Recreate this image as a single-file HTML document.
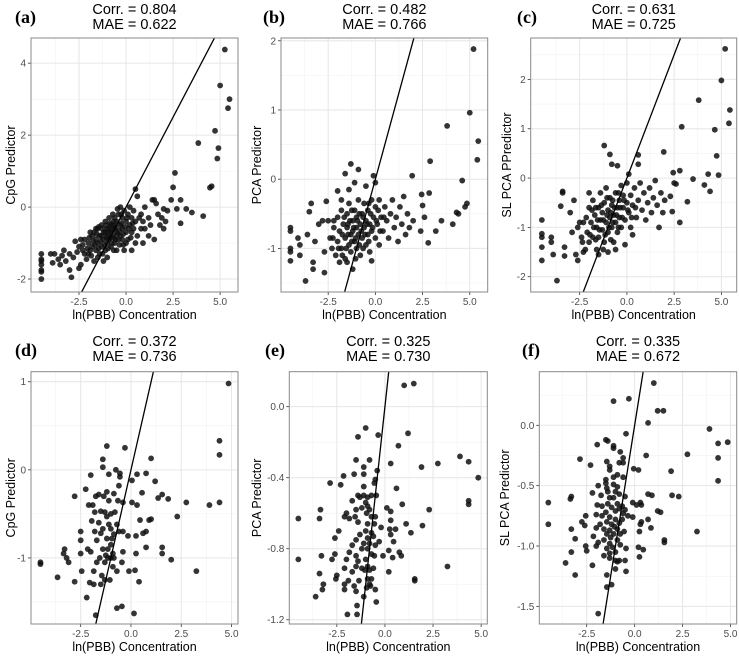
<!DOCTYPE html>
<html><head><meta charset="utf-8">
<style>
html,body{margin:0;padding:0;background:#fff;width:739px;height:656px;overflow:hidden;}
svg{display:block;font-family:"Liberation Sans",sans-serif;}
</style></head>
<body>
<svg id="fig" width="739" height="656" viewBox="0 0 739 656" xmlns="http://www.w3.org/2000/svg"></svg>
<script>
// ---- data ----
const xTickVals = [-2.5, 0, 2.5, 5];
const xTickLabels = ["-2.5", "0.0", "2.5", "5.0"];
const corrLabels = ["0.804", "0.482", "0.631", "0.372", "0.325", "0.335"];
const maeLabels = ["0.622", "0.766", "0.725", "0.736", "0.730", "0.672"];
const yTicksA = [-2, 0, 2, 4];
const yTicksB = [-1, 0, 1, 2];
const yTicksC = [-2, -1, 0, 1, 2];
const yTicksD = [-1, 0, 1];
const yTicksE = [-1.2, -0.8, -0.4, 0.0];
const yTicksF = [-1.5, -1.0, -0.5, 0.0];
const yLabA = ["-2","0","2","4"];
const yLabB = ["-1","0","1","2"];
const yLabC = ["-2","-1","0","1","2"];
const yLabD = ["-1","0","1"];
const yLabE = ["-1.2","-0.8","-0.4","0.0"];
const yLabF = ["-1.5","-1.0","-0.5","0.0"];

const pointsA = [[-4.5,-1.3],[-4.5,-1.45],[-4.5,-1.6],[-4.5,-1.75],[-4.5,-1.8],[-4.5,-2.0],[-4.5,-1.5],
[-3.8,-1.3],[-3.6,-1.45],[-3.5,-1.6],[-3.3,-1.2],[-3.2,-1.5],[-3.0,-1.3],[-3.0,-1.75],[-2.9,-1.95],[-2.8,-1.4],[-2.7,-0.95],[-2.6,-1.25],[-2.5,-1.1],[-2.4,-1.6],[-2.3,-1.2],[-2.2,-0.9],[-2.1,-1.45],[-2.0,-1.0],[-1.9,-0.7],[-3.4,-1.35],[-3.9,-1.55],[-4.0,-1.3],[-2.5,-1.7],
[-2,-1.3],[-1.8,-1.1],[-1.8,-0.8],[-1.7,-1.5],[-1.6,-1.2],[-1.6,-0.9],[-1.5,-1.0],[-1.5,-0.6],[-1.4,-1.3],[-1.4,-0.8],[-1.3,-1.1],[-1.3,-0.5],[-1.2,-0.9],[-1.2,-0.7],[-1.1,-1.2],[-1.1,-0.4],[-1.0,-0.8],[-1.0,-1.0],[-1.0,-0.6],[-0.9,-0.9],[-0.9,-0.3],[-0.8,-0.7],[-0.8,-1.1],[-0.8,-0.5],[-0.7,-0.8],[-0.7,-0.2],[-0.6,-0.6],[-0.6,-1.0],[-0.5,-0.4],[-0.5,-0.7],[-0.4,-0.9],[-0.4,-0.2],[-0.3,-0.5],[-0.3,-0.8],[-0.2,-0.3],[-0.2,-0.6],[-0.1,-1.2],[-0.1,-0.1],[0.0,-0.4],[0.0,-0.7],[0.1,-0.2],[0.1,-0.9],[0.2,0.0],[0.2,-0.5],[0.3,-0.3],[0.3,-0.7],[0.4,-0.1],[0.4,-0.6],[0.5,-0.4],[0.6,-0.8],[0.7,-0.3],[0.8,-0.6],[-1.9,-1.2],[-2.2,-1.3],[-1.5,-1.4],[-0.6,-0.3],[-1.1,-0.7],[-0.9,-0.6],[-0.5,-1.2],[-1.3,-0.8],[-0.7,-0.5],[-1.6,-0.6],[-0.2,-0.9],[0.0,-1.0],[-2.4,-0.9],[-1.0,-1.4],[0.5,-1.0],[0.9,-0.4],[-0.3,0.0],[-1.2,-1.5],
[-1.75,-0.95],[-1.65,-1.05],[-1.55,-0.75],[-1.45,-1.15],[-1.35,-0.95],[-1.25,-0.6],[-1.15,-1.05],[-1.05,-0.85],[-0.95,-1.15],[-0.95,-0.7],[-0.85,-0.85],[-0.75,-1.0],[-0.75,-0.65],[-0.65,-0.85],[-0.65,-0.4],[-0.55,-0.9],[-0.55,-0.55],[-0.45,-0.75],[-0.35,-0.65],[-0.35,-1.05],[-0.25,-0.45],[-0.15,-0.75],[-0.05,-0.55],[0.05,-0.3],[0.15,-0.6],[0.25,-0.85],[-1.85,-1.35],[-2.05,-1.15],[-1.95,-0.85],[-2.3,-1.05],[-1.45,-0.55],[-1.25,-1.3],[-0.85,-0.45],[-0.45,-0.05],[0.35,-0.45],[-0.15,-1.05],[-1.7,-0.7],[-1.05,-0.5],[-0.25,-0.2],[-0.65,-1.2],
[0.5,0.5],[0.6,0.3],[0.8,-0.2],[1.0,0.0],[1.2,-0.3],[1.4,0.2],[1.5,0.2],[1.6,0.1],[1.7,-0.2],[1.8,-0.5],[1.9,-0.3],[2.0,-0.6],[2.1,-0.4],[2.2,-0.1],[2.4,0.2],[2.5,0.55],[2.6,0.95],[2.7,-0.05],[2.9,-0.45],[2.9,0.2],[3.2,-0.05],[3.5,-0.15],[4.1,-0.25],[1.5,-0.9],[1.0,-0.6],[0.9,-1.0],[0.3,-1.2],[1.2,-0.8],[2.0,-0.05],[1.3,-0.5],
[3.84,1.78],[4.73,2.12],[4.91,1.64],[4.85,1.35],[4.46,0.54],[4.55,0.58],[5.25,4.38],[5.0,3.38],[5.5,3.0],[5.42,2.75]];

const pointsB = [[5.2,1.88],[5.0,0.96],[3.8,0.77],[5.45,0.55],[5.4,0.28],[2.9,0.26],[4.6,-0.02],[1.95,0.05],[4.85,-0.35],[4.75,-0.4],[4.3,-0.48],[4.4,-0.5],[4.1,-0.65],[3.5,-0.6],[3.2,-0.75],[2.8,-0.92],[2.6,-0.55],[2.4,-0.75],[2.5,-0.38],[2.45,-0.22],[2.85,-0.2],
[-4.5,-0.7],[-4.5,-0.75],[-4.5,-1.0],[-4.5,-1.05],[-4.5,-1.18],[-4.1,-0.85],[-4.0,-0.95],[-4.0,-1.1],[-3.7,-1.47],[-3.6,-0.8],[-3.5,-0.47],[-3.4,-0.35],[-3.3,-1.2],[-3.3,-1.3],[-3.2,-0.9],[-3.0,-0.65],[-2.8,-0.6],[-2.7,-1.05],[-2.6,-0.32],[-2.7,-1.35],[-2.2,-0.6],[-2.0,-0.17],
[-1.3,0.22],[-1.6,0.08],[-0.9,0.14],[-0.1,0.05],[-1.1,-0.05],[-0.5,-0.1],[0.0,-0.05],[-1.4,-0.15],
[-2.4,-0.85],[-2.3,-1.0],[-2.2,-0.7],[-2.1,-1.1],[-2.0,-0.55],[-2.0,-0.9],[-1.9,-1.2],[-1.9,-0.75],[-1.8,-0.45],[-1.8,-1.0],[-1.7,-0.65],[-1.6,-0.85],[-1.6,-1.15],[-1.5,-0.5],[-1.5,-0.7],[-1.4,-0.95],[-1.4,-0.35],[-1.3,-0.8],[-1.3,-1.05],[-1.2,-0.6],[-1.2,-0.75],[-1.1,-0.9],[-1.1,-0.45],[-1.0,-0.7],[-1.0,-1.0],[-1.0,-0.55],[-0.9,-0.8],[-0.9,-0.3],[-0.8,-0.65],[-0.8,-1.1],[-0.7,-0.5],[-0.7,-0.85],[-0.6,-0.7],[-0.6,-0.35],[-0.5,-0.95],[-0.5,-0.6],[-0.4,-0.45],[-0.4,-0.8],[-0.3,-0.65],[-0.3,-1.05],[-0.2,-0.3],[-0.2,-0.75],[-0.1,-0.55],[0.0,-0.85],[0.0,-0.4],[0.1,-0.65],[0.2,-0.3],[0.2,-0.95],[0.3,-0.55],[0.4,-0.75],[0.5,-0.4],[0.6,-0.6],[0.7,-0.85],[0.8,-0.5],[0.9,-0.3],[1.0,-0.7],[1.1,-0.55],[1.2,-0.9],[1.3,-0.4],[1.4,-0.65],[1.5,-0.25],[1.6,-0.8],[1.7,-0.5],[1.8,-0.7],[2.0,-0.6],[-1.5,-1.2],[-0.2,-1.18],[-2.5,-0.6],[-1.2,-1.3],[-1.8,-0.3],
[-1.75,-0.8],[-1.65,-0.55],[-1.55,-1.0],[-1.45,-0.8],[-1.35,-0.6],[-1.25,-0.9],[-1.15,-0.7],[-1.05,-0.85],[-0.95,-0.6],[-0.85,-0.95],[-0.75,-0.75],[-0.65,-0.55],[-0.55,-0.8],[-0.45,-0.65],[-0.35,-0.9],[-0.25,-0.5],[-0.15,-0.7],[0.05,-0.6],[0.25,-0.75],[0.45,-0.55],[-2.25,-0.85],[-1.95,-1.0],[-1.05,-1.15],[-0.65,-1.0],[-1.25,-0.45],[-0.85,-0.5],[-1.45,-0.65],[-0.35,-0.35],[0.15,-0.45],[-1.75,-1.1]];

const pointsC = [[5.2,2.62],[5.0,1.98],[3.8,1.58],[5.45,1.38],[5.4,1.11],[2.9,1.04],[4.65,0.98],[4.75,0.45],[1.95,0.53],[4.85,0.06],[4.3,0.08],[4.4,-0.27],[4.1,-0.14],[3.5,-0.02],[3.2,-0.48],[2.8,-0.9],[2.8,0.15],[2.45,0.11],[2.5,-0.1],[2.6,-0.12],[2.4,-0.68],[2.3,-0.37],
[-4.5,-0.85],[-4.5,-1.13],[-4.5,-1.2],[-4.5,-1.4],[-4.5,-1.67],[-4.0,-1.2],[-4.0,-1.3],[-3.9,-1.55],[-3.7,-2.08],[-3.4,-0.3],[-3.4,-0.27],[-3.5,-0.57],[-3.3,-1.4],[-3.3,-1.58],[-3.0,-0.7],[-2.9,-1.1],[-2.8,-0.45],[-2.7,-1.55],[-2.6,-1.67],[-2.5,-0.9],[-2.3,-1.5],[-2.0,-0.3],[-1.2,0.66],[-0.9,0.48],[-0.8,0.28],[0.6,0.47],[0.6,0.28],[-0.5,0.25],[0.1,0.08],
[-2.4,-1.2],[-2.3,-0.9],[-2.2,-1.45],[-2.1,-1.1],[-2.0,-0.6],[-2.0,-1.3],[-1.9,-0.9],[-1.8,-1.2],[-1.8,-0.45],[-1.7,-0.75],[-1.6,-1.0],[-1.6,-1.45],[-1.5,-0.6],[-1.5,-1.2],[-1.4,-0.85],[-1.4,-0.3],[-1.3,-1.05],[-1.3,-0.7],[-1.2,-0.5],[-1.2,-1.3],[-1.1,-0.9],[-1.1,-0.2],[-1.0,-0.65],[-1.0,-1.1],[-0.9,-0.8],[-0.9,-0.4],[-0.8,-1.0],[-0.8,-0.55],[-0.7,-0.75],[-0.7,-1.3],[-0.6,-0.3],[-0.6,-0.9],[-0.5,-0.6],[-0.5,-1.1],[-0.4,-0.45],[-0.4,-0.8],[-0.3,-0.15],[-0.3,-1.0],[-0.2,-0.6],[-0.2,-0.35],[-0.1,-0.85],[0.0,-0.5],[0.0,-0.1],[0.1,-0.7],[0.2,-0.35],[0.2,-1.0],[0.3,-0.55],[0.4,-0.2],[0.5,-0.8],[0.6,-0.45],[0.7,-0.1],[0.8,-0.65],[0.9,-0.3],[1.0,-0.85],[1.1,-0.5],[1.2,-0.2],[1.3,-0.7],[1.4,-0.4],[1.5,-0.05],[1.6,-0.55],[1.7,-1.0],[1.8,-0.3],[1.9,-0.7],[2.0,-0.45],[-1.5,-1.55],[-0.1,-1.35],[0.3,-1.15],[-1.0,-1.5],[-2.6,-1.0],[-0.6,-1.45],
[-1.75,-1.0],[-1.65,-0.6],[-1.55,-0.85],[-1.45,-1.05],[-1.35,-0.55],[-1.25,-0.85],[-1.15,-1.15],[-1.05,-0.75],[-0.95,-1.0],[-0.85,-0.7],[-0.75,-0.9],[-0.65,-0.6],[-0.55,-0.75],[-0.45,-1.0],[-0.35,-0.6],[-0.25,-0.8],[-0.15,-0.45],[0.05,-0.65],[0.25,-0.8],[-2.15,-0.8],[-1.95,-1.15],[-1.25,-1.45],[-0.85,-1.25],[-0.45,-0.3],[-1.65,-1.25],[-2.35,-1.3],[-1.05,-0.4],[0.45,-0.6],[-0.75,-0.45],[-1.85,-0.65]];

const pointsD = [[4.85,0.98],[4.4,0.33],[4.4,0.17],[4.4,-0.37],[3.9,-0.4],[3.25,-1.15],[2.75,-0.37],[2.3,-0.53],[2.0,-1.02],[1.85,-0.33],[1.55,-0.28],[1.55,-0.88],[1.55,-0.95],[1.35,-0.32],[1.2,-0.13],[1.0,0.13],[1.0,-0.56],[0.9,-0.57],[0.75,-0.04],[0.75,-0.7],[0.75,-0.88],[0.6,-0.72],[0.55,-0.26],[0.45,-0.57],[0.4,-1.27],[0.3,-0.05],[0.3,-0.4],[0.25,-0.75],[0.25,-0.95],[0.2,-1.14],[0.15,-1.63],[0.05,-0.37],[0.05,-0.12],[-0.1,-1.15],[-0.15,-0.75],[-0.3,0.25],[-0.4,-0.37],[-0.4,-0.7],[-0.4,-0.93],[-0.45,-1.05],[-0.45,-1.55],[-0.55,-0.08],[-0.55,-0.04],[-0.6,-0.18],[-0.65,-0.35],[-0.7,-0.62],[-0.7,-1.15],[-0.7,-1.57],[-0.75,0.0],[-0.8,-0.48],[-0.85,-0.27],[-0.85,-0.73],[-0.9,-0.95],[-0.9,-1.1],[-1.0,-0.5],[-1.0,-0.67],[-1.0,-0.85],[-1.0,-1.0],[-1.05,-1.25],[-1.1,-0.05],[-1.1,-0.35],[-1.1,-0.62],[-1.15,-0.9],[-1.2,0.27],[-1.2,-0.25],[-1.2,-0.53],[-1.2,-0.78],[-1.3,-0.48],[-1.3,-1.05],[-1.3,-1.25],[-1.35,-0.3],[-1.4,0.12],[-1.4,0.03],[-1.4,-0.67],[-1.4,-0.9],[-1.45,-1.2],[-1.5,-0.47],[-1.5,-0.72],[-1.5,-1.3],[-1.55,-1.0],[-1.6,-0.28],[-1.6,-0.6],[-1.7,-0.8],[-1.7,-1.05],[-1.75,-0.3],[-1.8,-0.48],[-1.8,-0.7],[-1.85,-1.15],[-1.85,-1.3],[-1.9,-0.4],[-1.95,-0.58],[-2.0,-0.06],[-2.0,-0.93],[-2.05,-1.28],[-2.1,-0.4],[-2.15,-0.9],[-2.2,-1.45],[-2.25,-0.22],[-2.5,-0.7],[-2.5,-0.8],[-2.5,-0.95],[-2.45,-1.15],[-2.8,-0.3],[-2.8,-1.27],[-3.1,-1.05],[-3.2,-1.0],[-3.3,-0.9],[-3.35,-0.95],[-3.65,-1.22],[-4.5,-1.05],[-4.5,-1.07],[-1.75,-1.65],[-1.25,-0.97],[-0.95,-0.78],[-0.6,-0.7],[-1.15,-1.0],[-0.85,-1.0]];

const pointsE = [[1.0,0.12],[1.5,0.13],[-1.0,-0.12],[1.2,-0.15],[-0.35,-0.16],[-1.4,-0.17],[0.7,-0.22],[3.9,-0.28],[4.35,-0.31],[2.75,-0.32],[0.3,-0.32],[1.9,-0.34],[-1.5,-0.3],[-0.8,-0.3],[-1.1,-0.34],[-0.4,-0.36],[-2.15,-0.39],[-1.6,-0.38],[-1.1,-0.38],[4.85,-0.4],[-0.5,-0.41],[-0.55,-0.43],[-2.85,-0.43],[-2.3,-0.44],[-1.1,-0.45],[-1.4,-0.5],[-1.3,-0.51],[-1.1,-0.5],[-0.9,-0.51],[-0.7,-0.5],[-0.45,-0.5],[0.6,-0.46],[-1.7,-0.53],[-1.0,-0.54],[-0.9,-0.56],[0.9,-0.55],[4.35,-0.53],[4.35,-0.55],[2.3,-0.58],[-3.35,-0.58],[-1.5,-0.58],[-1.2,-0.57],[-0.8,-0.58],[0.1,-0.57],[0.3,-0.59],[-2.0,-0.6],[-1.85,-0.63],[-2.1,-0.62],[-1.55,-0.62],[-0.95,-0.6],[-0.7,-0.62],[-0.5,-0.62],[-4.5,-0.63],[-3.4,-0.63],[-1.4,-0.65],[-0.9,-0.66],[-0.55,-0.66],[0.3,-0.64],[1.1,-0.66],[1.95,-0.67],[-0.2,-0.68],[0.25,-0.69],[-2.4,-0.7],[-1.3,-0.72],[-1.0,-0.7],[-0.7,-0.71],[0.55,-0.69],[1.35,-0.71],[-1.5,-0.75],[-0.9,-0.74],[-0.6,-0.73],[0.3,-0.72],[-2.6,-0.74],[-1.1,-0.77],[-0.8,-0.77],[-0.5,-0.78],[-0.3,-0.76],[0.45,-0.76],[-1.7,-0.78],[-1.2,-0.8],[-0.9,-0.8],[-1.85,-0.82],[-1.5,-0.84],[-0.7,-0.83],[0.2,-0.81],[0.75,-0.82],[-2.6,-0.83],[-3.3,-0.84],[-1.4,-0.87],[-1.0,-0.86],[-0.55,-0.84],[-0.1,-0.84],[0.4,-0.85],[0.85,-0.84],[-2.75,-0.86],[-4.5,-0.86],[-2.0,-0.86],[-1.5,-0.9],[-1.2,-0.91],[-0.9,-0.9],[-0.6,-0.91],[-2.1,-0.91],[-1.7,-0.93],[-1.05,-0.92],[-0.8,-0.92],[0.2,-0.93],[3.25,-0.9],[-3.4,-0.94],[-1.9,-0.98],[-1.35,-0.98],[-0.9,-0.97],[-0.7,-0.97],[-2.5,-0.95],[-2.55,-0.97],[1.55,-0.97],[1.55,-0.98],[-3.2,-1.0],[-3.25,-1.03],[-2.1,-1.0],[-1.6,-1.01],[-0.95,-1.02],[-0.75,-1.01],[-0.8,-1.0],[-2.1,-1.03],[-0.5,-1.03],[-1.5,-1.04],[-1.1,-1.07],[-3.6,-1.07],[-0.45,-1.1],[-1.45,-1.12],[-1.95,-1.17],[-1.45,-1.17]];

const pointsF = [[1.0,0.35],[-0.3,0.22],[-1.1,0.2],[1.2,0.12],[1.5,0.12],[0.7,0.02],[3.9,-0.03],[-0.45,-0.07],[4.85,-0.14],[4.35,-0.15],[-1.5,-0.12],[-1.4,-0.13],[-1.95,-0.16],[-1.1,-0.17],[-1.1,-0.19],[-0.75,-0.22],[2.75,-0.24],[0.6,-0.25],[-0.6,-0.27],[4.35,-0.27],[-2.85,-0.28],[-0.6,-0.31],[-1.45,-0.3],[-0.8,-0.31],[-2.3,-0.33],[-1.3,-0.34],[-0.05,-0.36],[0.2,-0.37],[1.9,-0.38],[-1.3,-0.37],[-0.9,-0.41],[-1.1,-0.43],[-0.6,-0.43],[4.35,-0.46],[-1.5,-0.45],[-1.5,-0.48],[-1.1,-0.49],[-1.9,-0.5],[-1.45,-0.52],[-0.9,-0.51],[-1.4,-0.55],[-2.2,-0.56],[-1.0,-0.55],[-0.8,-0.57],[0.7,-0.57],[0.9,-0.58],[1.95,-0.58],[2.3,-0.59],[-3.3,-0.59],[-3.35,-0.61],[-1.75,-0.58],[-1.3,-0.6],[-1.1,-0.6],[-0.5,-0.59],[-0.1,-0.64],[0.3,-0.64],[-4.5,-0.64],[-1.95,-0.66],[-1.7,-0.67],[-1.4,-0.65],[-0.9,-0.65],[-0.65,-0.67],[0.1,-0.66],[0.35,-0.66],[-1.2,-0.68],[-0.8,-0.69],[-0.5,-0.7],[-1.5,-0.72],[-1.0,-0.71],[-0.6,-0.73],[1.2,-0.71],[1.35,-0.72],[-2.0,-0.74],[-1.7,-0.75],[-1.3,-0.76],[-2.55,-0.75],[-0.35,-0.75],[-0.1,-0.76],[-1.0,-0.78],[-0.65,-0.78],[0.7,-0.78],[-1.45,-0.8],[-1.2,-0.82],[-0.8,-0.81],[-2.75,-0.8],[-2.6,-0.83],[-4.5,-0.82],[-1.8,-0.82],[0.3,-0.82],[0.35,-0.8],[-1.05,-0.84],[0.85,-0.85],[-2.0,-0.85],[-1.6,-0.86],[-1.3,-0.87],[-0.9,-0.86],[-3.3,-0.86],[-0.55,-0.88],[0.25,-0.88],[3.25,-0.88],[-1.45,-0.9],[-1.1,-0.9],[-0.75,-0.9],[-2.15,-0.92],[-3.1,-0.94],[-1.25,-0.93],[-0.9,-0.95],[-1.6,-0.95],[1.55,-0.95],[1.55,-0.97],[-1.9,-0.97],[-1.3,-0.98],[-0.75,-0.99],[-2.0,-1.0],[-2.55,-1.0],[-1.45,-1.02],[-1.15,-1.01],[0.2,-1.01],[-0.45,-1.02],[-2.5,-1.04],[-3.3,-1.05],[-1.3,-1.06],[-1.0,-1.05],[0.45,-1.03],[-1.6,-1.08],[-1.3,-1.1],[0.25,-1.09],[-1.0,-1.12],[-0.5,-1.12],[-0.9,-1.13],[-0.8,-1.12],[-3.6,-1.14],[-2.2,-1.16],[-1.0,-1.19],[-0.45,-1.21],[-3.1,-1.24],[-1.45,-1.24],[-1.2,-1.32],[-1.45,-1.34],[-1.9,-1.56]];

// ---- layout ----
const NS = "http://www.w3.org/2000/svg";
const svg = document.getElementById("fig");
function mk(tag, attrs, parent) {
  const e = document.createElementNS(NS, tag);
  for (const k in attrs) e.setAttribute(k, attrs[k]);
  (parent || svg).appendChild(e);
  return e;
}
const panels = [
  {id:"a", tag:"(a)", lx:15, pts:pointsA, yt:yTicksA, yl:yLabA, ytitle:"CpG Predictor", tx:11, x0:31, x1:238, y0:38, y1:292, xd:[-5.05,5.95], yd:[-2.36,4.70], row:0},
  {id:"b", tag:"(b)", lx:263, pts:pointsB, yt:yTicksB, yl:yLabB, ytitle:"PCA Predictor", tx:257, x0:281, x1:487.7, y0:38, y1:292, xd:[-5.0,5.95], yd:[-1.63,2.04], row:0},
  {id:"c", tag:"(c)", lx:517, pts:pointsC, yt:yTicksC, yl:yLabC, ytitle:"SL PCA PPredictor", tx:507, x0:530.7, x1:736.7, y0:38, y1:292, xd:[-5.09,5.81], yd:[-2.31,2.84], row:0},
  {id:"d", tag:"(d)", lx:15, pts:pointsD, yt:yTicksD, yl:yLabD, ytitle:"CpG Predictor", tx:11, x0:31, x1:238, y0:371.7, y1:624, xd:[-4.97,5.32], yd:[-1.75,1.114], row:1},
  {id:"e", tag:"(e)", lx:265, pts:pointsE, yt:yTicksE, yl:yLabE, ytitle:"PCA Predictor", tx:257, x0:289.3, x1:487.3, y0:371.7, y1:624, xd:[-4.97,5.32], yd:[-1.224,0.197], row:1},
  {id:"f", tag:"(f)", lx:522, pts:pointsF, yt:yTicksF, yl:yLabF, ytitle:"SL PCA Predictor", tx:505, x0:539.3, x1:736.7, y0:371.7, y1:624, xd:[-4.97,5.32], yd:[-1.646,0.444], row:1}
];
const defs = mk("defs", {});
panels.forEach((p, i) => {
  const g = mk("g", {});
  
  
  const sx = v => p.x0 + (v - p.xd[0]) / (p.xd[1] - p.xd[0]) * (p.x1 - p.x0);
  const sy = v => p.y1 - (v - p.yd[0]) / (p.yd[1] - p.yd[0]) * (p.y1 - p.y0);
  const cp = mk("clipPath", {id: "clip" + p.id}, defs);
  mk("rect", {x: p.x0, y: p.y0, width: p.x1 - p.x0, height: p.y1 - p.y0}, cp);
  mk("rect", {x: p.x0, y: p.y0, width: p.x1 - p.x0, height: p.y1 - p.y0, fill: "#fff"}, g);
  const grid = mk("g", {"clip-path": "url(#clip" + p.id + ")"}, g);
  const xstep = xTickVals[1] - xTickVals[0];
  for (let v = xTickVals[0] - 1.5 * xstep; v <= xTickVals[xTickVals.length - 1] + xstep; v += xstep) {
    mk("line", {x1: sx(v), x2: sx(v), y1: p.y0, y2: p.y1, stroke: "#f2f2f2", "stroke-width": 0.6}, grid);
  }
  const ystep = p.yt[1] - p.yt[0];
  for (let v = p.yt[0] - 1.5 * ystep; v <= p.yt[p.yt.length - 1] + ystep; v += ystep) {
    mk("line", {x1: p.x0, x2: p.x1, y1: sy(v), y2: sy(v), stroke: "#f2f2f2", "stroke-width": 0.6}, grid);
  }
  xTickVals.forEach((v, k) => {
    const X = sx(v);
    const gl = mk("line", {x1: X, x2: X, y1: p.y0, y2: p.y1, stroke: "#e6e6e6", "stroke-width": 1}, grid);
    
    
    mk("line", {x1: X, x2: X, y1: p.y1, y2: p.y1 + 3, stroke: "#333", "stroke-width": 0.8}, g);
    const t = mk("text", {x: X, y: p.y1 + 13, "text-anchor": "middle", "font-size": 10, fill: "#4d4d4d"}, g);
    t.textContent = xTickLabels[k];
    
    
  });
  p.yt.forEach((v, k) => {
    const Y = sy(v);
    const gl = mk("line", {x1: p.x0, x2: p.x1, y1: Y, y2: Y, stroke: "#e6e6e6", "stroke-width": 1}, grid);
    
    
    mk("line", {x1: p.x0 - 3, x2: p.x0, y1: Y, y2: Y, stroke: "#333", "stroke-width": 0.8}, g);
    const t = mk("text", {x: p.x0 - 5, y: Y + 3.5, "text-anchor": "end", "font-size": 10, fill: "#4d4d4d"}, g);
    t.textContent = p.yl[k];
    
    
  });
  const marks = mk("g", {"clip-path": "url(#clip" + p.id + ")"}, g);
  p.pts.forEach(d => {
    const c = mk("circle", {cx: sx(d[0]), cy: sy(d[1]), r: 2.9, fill: "#111", "fill-opacity": 0.85}, marks);
    
    
  });
  const lo = Math.min(p.xd[0], p.yd[0]) - 1, hi = Math.max(p.xd[1], p.yd[1]) + 1;
  const ln = mk("line", {x1: sx(lo), y1: sy(lo), x2: sx(hi), y2: sy(hi), stroke: "#000", "stroke-width": 1.3}, marks);
  
  
  const border = mk("rect", {x: p.x0, y: p.y0, width: p.x1 - p.x0, height: p.y1 - p.y0, fill: "none", stroke: "#888", "stroke-width": 1}, g);
  
  
  const cx = (p.x0 + p.x1) / 2;
  const base = p.row === 0 ? 14 : 346;
  const t1 = mk("text", {x: cx, y: base, "text-anchor": "middle", "font-size": 14.5, fill: "#000"}, g);
  t1.textContent = "Corr. = " + corrLabels[i];
  
  
  const t2 = mk("text", {x: cx, y: base + 15, "text-anchor": "middle", "font-size": 14.5, fill: "#000"}, g);
  t2.textContent = "MAE = " + maeLabels[i];
  
  
  const pl = mk("text", {x: p.lx, y: p.row === 0 ? 23 : 356, "font-size": 18, "font-weight": "bold", "font-family": "Liberation Serif, serif", fill: "#000"}, g);
  pl.textContent = p.tag;
  
  
  const xt = mk("text", {x: cx, y: p.y1 + 27, "text-anchor": "middle", "font-size": 12.5, fill: "#000"}, g);
  xt.textContent = "ln(PBB) Concentration";
  
  
  const cy = (p.y0 + p.y1) / 2;
  const yt = mk("text", {x: p.tx + 4, y: cy, "text-anchor": "middle", "font-size": 12.5, fill: "#000", transform: "rotate(-90 " + (p.tx + 4) + " " + cy + ")"}, g);
  yt.textContent = p.ytitle;
  
  
});
</script>
</body></html>
